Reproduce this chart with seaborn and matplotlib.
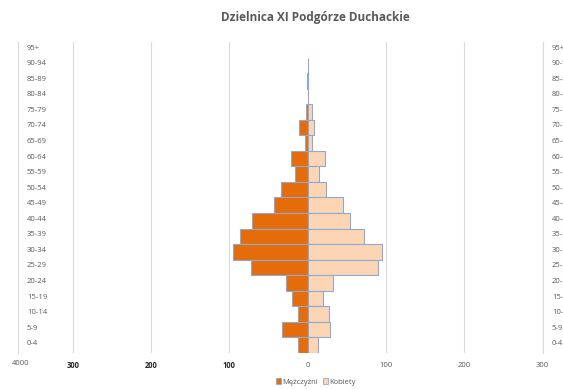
import numpy as np
import pandas as pd
import matplotlib
matplotlib.use("Agg")
import matplotlib.pyplot as plt
import matplotlib.transforms as mtransforms
from matplotlib.patches import Patch
import seaborn as sns

# data (bottom group first)
ages = ["0-4", "5-9", "10-14", "15-19", "20-24", "25-29", "30-34", "35-39", "40-44", "45-49",
        "50-54", "55-59", "60-64", "65-69", "70-74", "75-79", "80-84", "85-89", "90-94", "95+"]
men = [12, 33, 12, 20, 28, 73, 96, 86, 71, 43, 34, 16, 21, 4, 11, 2, 0, 1, 0, 0]
women = [13, 28, 27, 19, 32, 90, 95, 72, 54, 45, 23, 15, 22, 5, 8, 6, 1, 1, 1, 0]
x_ticks = [-300, -200, -100, 0, 100, 200, 300]

df = pd.DataFrame({"wiek": ages, "Mężczyźni": men, "Kobiety": women})
order = ages[::-1]  # 95+ at the top

sns.set_style("white")
plt.rcParams["font.family"] = ["Open Sans", "DejaVu Sans"]

c_men = "#E46C0A"
c_women = "#FCD5B5"
c_edge = "#8EA9D2"
grey = "#595959"

fig = plt.figure(figsize=(5.63, 3.89), dpi=100)
ax = fig.add_axes([18 / 563, 1 - 353 / 389, (543 - 18) / 563, (353 - 42) / 389])

sns.barplot(x=-df["Mężczyźni"], y=df["wiek"], order=order, orient="h", color=c_men,
            width=1.0, edgecolor=c_edge, linewidth=0.8, saturation=1, ax=ax)
sns.barplot(x=df["Kobiety"], y=df["wiek"], order=order, orient="h", color=c_women,
            width=1.0, edgecolor=c_edge, linewidth=0.8, saturation=1, ax=ax)

# empty groups should not leave an outline
for p in ax.patches:
    if p.get_width() == 0:
        p.set_linewidth(0)

ax.set_xlim(-370, 300.5)
ax.set_ylim(19.5, -0.5)
ax.set_xlabel("")
ax.set_ylabel("")

# vertical grid
for v in x_ticks:
    if v != 0:
        ax.axvline(v, color="#D9D9D9", lw=0.8, zorder=0)
ax.set_axisbelow(True)
for s in ["top", "bottom"]:
    ax.spines[s].set_visible(False)
ax.spines["left"].set_color("#D9D9D9")
ax.spines["right"].set_color("#D9D9D9")
ax.spines["left"].set_linewidth(0.8)
ax.spines["right"].set_linewidth(0.8)

# age labels on both sides
ax.set_yticks([])
tr_l = mtransforms.blended_transform_factory(ax.transAxes, ax.transData)
for i, lab in enumerate(order):
    ax.text(0.017, i - 0.1, lab, transform=tr_l, ha="left", va="center", fontsize=5.5, color=grey)
    ax.text(1.017, i - 0.1, lab, transform=tr_l, ha="left", va="center", fontsize=5.5, color=grey)

# x tick labels
ax.set_xticks([])
tr_b = mtransforms.blended_transform_factory(ax.transData, ax.transAxes)
for v in x_ticks:
    if v < 0:
        ax.text(v, -0.04, str(abs(v)), transform=tr_b, ha="center", va="center",
                fontsize=5.5, color="#262626", fontweight="bold")
    else:
        ax.text(v, -0.04, str(v), transform=tr_b, ha="center", va="center",
                fontsize=5.5, color=grey)
ax.text(-367, -0.035, "4000", transform=tr_b, ha="center", va="center", fontsize=5.5, color=grey)

fig.text(0.561, 1 - 18 / 389, "Dzielnica XI Podgórze Duchackie", ha="center", va="center",
         fontsize=8.5, fontweight="bold", color=grey)

handles = [Patch(facecolor=c_men, edgecolor=c_edge, linewidth=0.6),
           Patch(facecolor=c_women, edgecolor=c_edge, linewidth=0.6)]
leg = fig.legend(handles, ["Mężczyźni", "Kobiety"], loc="center", bbox_to_anchor=(0.561, 1 - 382 / 389),
                 ncol=2, frameon=False, fontsize=5.5, handlelength=0.7, handleheight=0.7,
                 handletextpad=0.2, columnspacing=0.6, borderpad=0)
for t in leg.get_texts():
    t.set_color(grey)

fig.savefig("out.png", dpi=100)
